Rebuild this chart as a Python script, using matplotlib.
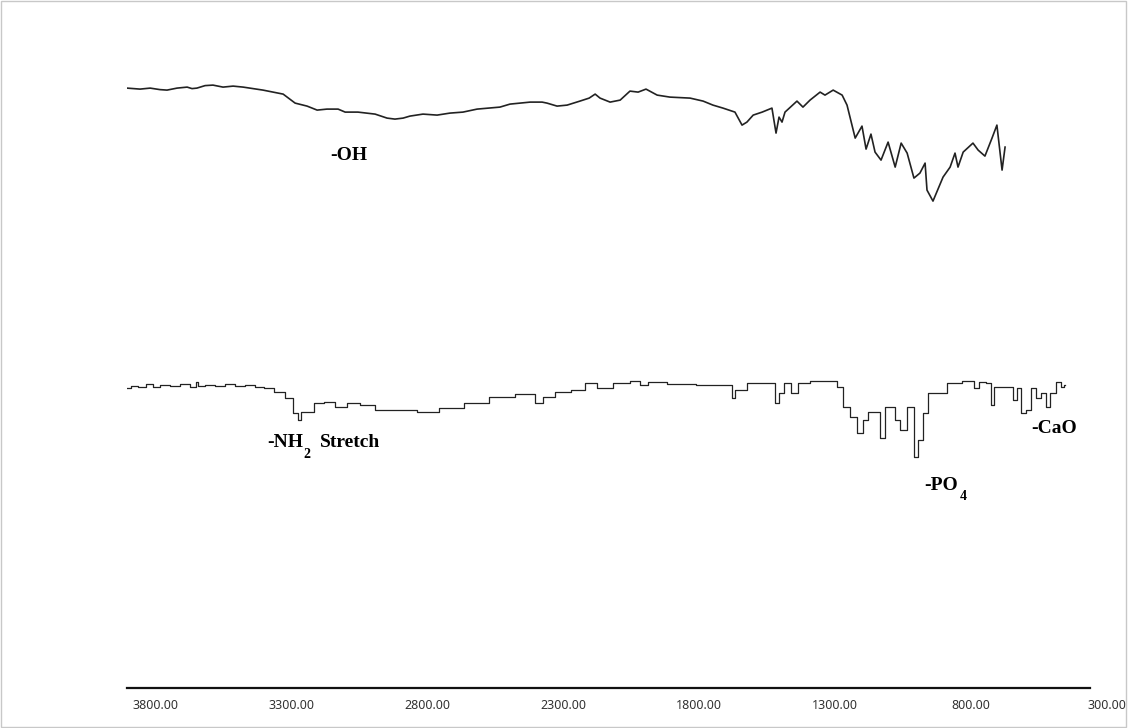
import matplotlib.pyplot as plt
from matplotlib.patches import Rectangle

# espectro superior (suave)
wn_top = [3903, 3855, 3818, 3782, 3756, 3719, 3682, 3664, 3646, 3616, 3587, 3550,
          3513, 3476, 3403, 3329, 3285, 3241, 3204, 3168, 3127, 3101, 3054, 2991,
          2947, 2918, 2888, 2863, 2815, 2763, 2716, 2668, 2616, 2532, 2495, 2421,
          2377, 2359, 2322, 2285, 2238, 2204, 2182, 2164, 2127, 2090, 2054, 2024,
          1995, 1954, 1907, 1833, 1785, 1749, 1712, 1668, 1642, 1624, 1601, 1568,
          1532, 1517, 1506, 1495, 1484, 1440, 1418, 1392, 1355, 1337, 1307, 1274,
          1256, 1226, 1201, 1186, 1168, 1153, 1131, 1105, 1079, 1057, 1035, 1010,
          988, 969, 962, 940, 903, 877, 859, 848, 829, 793, 774, 749, 723, 705,
          686, 675]
t_top = [600, 599, 600, 598.5, 598, 600, 601, 599.5, 600, 602.5, 603, 601,
         602, 601, 598, 594, 585, 582, 578, 579, 579, 576, 576, 574,
         570, 569, 570, 572, 574, 573, 575, 576, 579, 581, 584, 586,
         586, 585, 582, 583, 587, 590, 594, 590, 586, 588, 597, 596,
         599, 593, 591, 590, 587, 583, 580, 576, 563, 566, 573, 576,
         580, 555, 571, 566, 576, 587, 581, 588, 596, 593, 598, 593,
         583, 550, 562, 539, 554, 536, 528, 546, 521, 545, 535, 510,
         515, 525, 498, 487, 511, 521, 535, 521, 536, 545, 538, 532, 550, 563,
         518, 541]

# espectro inferior (escalonado)
wn_bot = [3903, 3874, 3848, 3818, 3800, 3763, 3726, 3690, 3653, 3646, 3635, 3598,
          3561, 3524, 3488, 3451, 3414, 3388, 3340, 3304, 3278, 3271, 3256, 3230,
          3201, 3157, 3120, 3072, 3021, 2962, 2874, 2800, 2715, 2616, 2532, 2421,
          2388, 2359, 2300, 2238, 2201, 2153, 2079, 2028, 2006, 1969, 1870, 1749,
          1686, 1675, 1660, 1587, 1528, 1513, 1502, 1477, 1447, 1429, 1355, 1307,
          1282, 1256, 1234, 1208, 1190, 1171, 1146, 1127, 1109, 1087, 1072, 1050,
          1024, 999, 988, 962, 951, 914, 866, 804, 778, 760, 730, 723, 712, 657,
          638, 627, 609, 590, 572, 554, 535, 517, 499, 480, 462, 454]
t_bot = [300, 302, 301, 304, 301, 303, 302, 304, 301, 306, 302, 303,
         302, 304, 302, 303, 301, 300, 296, 290, 275, 268, 276, 276,
         285, 286, 281, 285, 283, 278, 278, 276, 280, 285, 291, 294,
         285, 291, 296, 298, 305, 300, 305, 307, 303, 306, 304, 303,
         303, 290, 298, 305, 305, 285, 295, 305, 295, 305, 307, 307,
         301, 281, 271, 255, 268, 276, 276, 250, 281, 281, 268, 258,
         281, 231, 248, 275, 295, 295, 305, 307, 300, 306, 305, 283, 301, 301,
         288, 300, 275, 278, 300, 290, 295, 281, 295, 306, 301, 303]

ticks = [3800, 3300, 2800, 2300, 1800, 1300, 800, 300]
tick_labels = ['3800.00', '3300.00', '2800.00', '2300.00', '1800.00', '1300.00', '800.00', '300.00']

fig = plt.figure(figsize=(11.28, 7.28), dpi=100)
fig.patches.append(Rectangle((0.0005, 0.001), 0.998, 0.997, transform=fig.transFigure,
                             fill=False, edgecolor='#c8c8c8', linewidth=1))
ax = fig.add_axes([0.1126, 0.0549, 0.8809, 0.890])

ax.plot(wn_top, t_top, color='#222222', linewidth=1.2)
ax.plot(wn_bot, t_bot, color='#222222', linewidth=0.9, drawstyle='steps-mid')

ax.set_xlim(3903, 250)
ax.set_ylim(0, 648)

for s in ['top', 'right', 'left']:
    ax.spines[s].set_visible(False)
ax.spines['bottom'].set_bounds(3903, 362)
ax.spines['bottom'].set_linewidth(1.6)
ax.spines['bottom'].set_color('#111111')
ax.set_yticks([])
ax.set_xticks(ticks)
ax.set_xticklabels(tick_labels, fontfamily='Noto Sans', fontsize=9, color='#333333')
ax.tick_params(axis='x', length=0, pad=8)

# etiquetas de bandas
txt = dict(fontfamily='Liberation Serif', fontweight='bold', fontsize=14, va='center', ha='left')
sub = dict(fontfamily='Liberation Serif', fontweight='bold', fontsize=10, va='center', ha='left')
ax.text(3157, 533, '-OH', **txt)
ax.text(3388, 246, '-NH', **txt)
ax.text(3254, 234, '2', **sub)
ax.text(3195, 246, 'Stretch', **txt)
ax.text(973, 203, '-PO', **txt)
ax.text(843, 192, '4', **sub)
ax.text(580, 260, '-CaO', **txt)

plt.savefig('out.png', dpi=100)
